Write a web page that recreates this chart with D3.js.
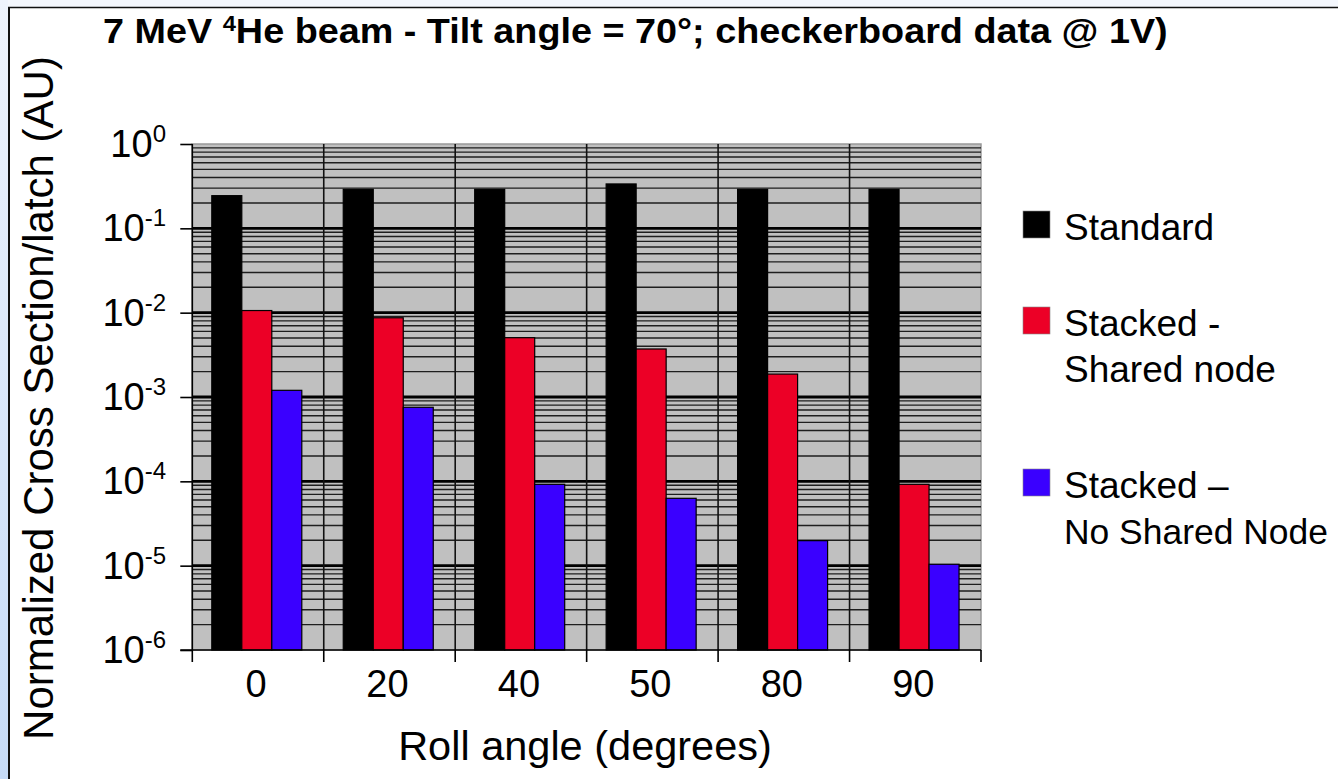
<!DOCTYPE html>
<html><head><meta charset="utf-8">
<script src="https://cdn.jsdelivr.net/npm/d3@7"></script>
<style>html,body{margin:0;padding:0;background:#fff;overflow:hidden}</style>
</head><body>
<svg id="chart" width="1338" height="779"></svg>
<script>
const categories = ["0","20","40","50","80","90"];
const seriesKeys = ["standard","shared","noShared"];
const standard = [0.244, 0.29, 0.29, 0.336, 0.29, 0.29];
const sharedNode = [0.0106, 0.0087, 0.00505, 0.00371, 0.00187, 0.0000922];
const noSharedNode = [0.0012, 0.000755, 0.0000922, 0.0000629, 0.0000198, 0.0000104];
const yTickExponents = [0, -1, -2, -3, -4, -5, -6];
const legendLabels = [["Standard"], ["Stacked -", "Shared node"], ["Stacked \u2013", "No Shared Node"]];
const colors = ["#000000", "#ec0026", "#3a00ff"];
const titleParts = ["7 MeV ", "4", "He beam - Tilt angle = 70\u00b0; checkerboard data @ 1V)"];
const xTitle = "Roll angle (degrees)";
const yTitle = "Normalized Cross Section/latch (AU)";

const seriesValues = [standard, sharedNode, noSharedNode];
const FONT = "'Liberation Sans', Arial, Helvetica, sans-serif";

const svg = d3.select("#chart");
const W = 1338, H = 779;
const L = 192.3, R = 981, T = 144, B = 650;

// frame background
const defs = svg.append("defs");
const lg = defs.append("linearGradient").attr("id","strip").attr("x1",0).attr("y1",0).attr("x2",0).attr("y2",1);
lg.append("stop").attr("offset","0%").attr("stop-color","#eef3fc");
lg.append("stop").attr("offset","100%").attr("stop-color","#c6dbf7");
svg.append("rect").attr("x",0).attr("y",0).attr("width",W).attr("height",H).attr("fill","#fff");
svg.append("rect").attr("x",0).attr("y",0).attr("width",W).attr("height",7).attr("fill","#f4f7fd");
svg.append("rect").attr("x",0).attr("y",0).attr("width",8).attr("height",H).attr("fill","url(#strip)");
svg.append("line").attr("x1",8).attr("x2",W).attr("y1",7.5).attr("y2",7.5).attr("stroke","#111").attr("stroke-width",1.6);
svg.append("line").attr("x1",9).attr("x2",9).attr("y1",7).attr("y2",H).attr("stroke","#111").attr("stroke-width",2);

const x = d3.scaleBand().domain(categories).range([L, R]).paddingInner(0).paddingOuter(0);
const bw = x.bandwidth();
const x1 = d3.scaleBand().domain(seriesKeys).range([bw*19.5/131.45, bw*109.5/131.45]).padding(0);
const y = d3.scaleLog().domain([1e-6, 1]).range([B, T]);

// plot background
svg.append("rect").attr("x",L).attr("y",T).attr("width",R-L).attr("height",B-T)
  .attr("fill","#c0c0c0").attr("stroke","#999").attr("stroke-width",1.5);

// minor gridlines
const minor = [];
for (let e = -6; e < 0; e++) for (let m = 2; m <= 9; m++) minor.push(m * Math.pow(10, e));
svg.append("g").selectAll("line").data(minor).join("line")
  .attr("x1",L).attr("x2",R).attr("y1",d=>y(d)).attr("y2",d=>y(d))
  .attr("stroke","#1e1e1e").attr("stroke-width",1.4);
// major gridlines
svg.append("g").selectAll("line").data(yTickExponents.filter(e=>e<0&&e>-6)).join("line")
  .attr("x1",L).attr("x2",R).attr("y1",d=>y(Math.pow(10,d))).attr("y2",d=>y(Math.pow(10,d)))
  .attr("stroke","#000").attr("stroke-width",2.8);
// vertical gridlines at category boundaries
svg.append("g").selectAll("line").data(categories.slice(1)).join("line")
  .attr("x1",d=>x(d)).attr("x2",d=>x(d)).attr("y1",T).attr("y2",B)
  .attr("stroke","#111").attr("stroke-width",1.6);

// bars
const barData = [];
categories.forEach((c,i)=>seriesKeys.forEach((k,j)=>barData.push({c, k, j, v: seriesValues[j][i]})));
svg.append("g").selectAll("rect").data(barData).join("rect")
  .attr("x",d=>x(d.c)+x1(d.k))
  .attr("width",x1.bandwidth())
  .attr("y",d=>y(d.v))
  .attr("height",d=>B-y(d.v))
  .attr("fill",d=>colors[d.j])
  .attr("stroke","#000").attr("stroke-width",1.2);

// y axis
const yAxis = d3.axisLeft(y).tickValues(yTickExponents.map(e=>Math.pow(10,e))).tickSize(12).tickFormat("");
const yg = svg.append("g").attr("transform",`translate(${L},0)`).call(yAxis);
yg.select(".domain").attr("stroke","#000").attr("stroke-width",1.6).attr("d",`M-0,${T}V${B}`);
yg.selectAll(".tick line").attr("stroke","#000").attr("stroke-width",1.6);
const ylab = svg.append("g").selectAll("text").data(yTickExponents).join("text")
  .attr("x",0).attr("y",d=>y(Math.pow(10,d))+13)
  .attr("font-family",FONT).attr("font-size",38).attr("fill","#000");
ylab.append("tspan").text("10");
ylab.append("tspan").attr("dy",-15).attr("font-size",24).text(d=>String(d));
ylab.each(function(){
  const w = this.getBBox().width;
  d3.select(this).attr("x", 166 - w);
});

// x axis
const xAxis = d3.axisBottom(x).tickSize(0).tickPadding(0);
const xg = svg.append("g").attr("transform",`translate(0,${B})`).call(xAxis);
xg.select(".domain").attr("stroke","#000").attr("stroke-width",1.6).attr("d",`M${L-12},0H${R}`);
xg.selectAll(".tick text").attr("font-family",FONT).attr("font-size",38).attr("fill","#000")
  .attr("dy",0).attr("y",47).attr("dx",-2);
const bounds = categories.map(c=>x(c)).concat([R]);
xg.append("g").selectAll("line").data(bounds).join("line")
  .attr("x1",d=>d).attr("x2",d=>d).attr("y1",0).attr("y2",12)
  .attr("stroke","#000").attr("stroke-width",1.6);

// titles
const tt = svg.append("text").attr("x",103).attr("y",43)
  .attr("font-family",FONT).attr("font-weight","bold").attr("font-size",35).attr("fill","#000");
tt.append("tspan").text(titleParts[0]);
tt.append("tspan").attr("dy",-12).attr("font-size",22).text(titleParts[1]);
tt.append("tspan").attr("dy",12).text(titleParts[2]);
const tw = tt.node().getBBox().width;
tt.attr("transform",`translate(103,0) scale(${1065/tw},1) translate(-103,0)`);

svg.append("text").attr("x",585).attr("y",760).attr("text-anchor","middle")
  .attr("font-family",FONT).attr("font-size",41.5).attr("fill","#000").text(xTitle);

svg.append("text").attr("transform","translate(53,398) rotate(-90)").attr("text-anchor","middle")
  .attr("font-family",FONT).attr("font-size",42).attr("fill","#000").text(yTitle);

// legend
const legTops = [211, 307, 469];
const lgG = svg.append("g").selectAll("g").data(legendLabels).join("g");
lgG.append("rect").attr("x",1023).attr("y",(d,i)=>legTops[i]).attr("width",27).attr("height",27)
  .attr("fill",(d,i)=>colors[i]).attr("stroke","#888").attr("stroke-width",0.6);
lgG.each(function(d,i){
  const g = d3.select(this);
  d.forEach((line,k)=>{
    const t = g.append("text").attr("font-family",FONT).attr("font-size",37).attr("fill","#000")
      .attr("x",1064).attr("y",legTops[i]+29+k*46).text(line);
    const len = t.node().getComputedTextLength();
    if (1064 + len > 1328) t.attr("font-size", 37 * (1328 - 1064) / len);
  });
});
</script>
</body></html>
